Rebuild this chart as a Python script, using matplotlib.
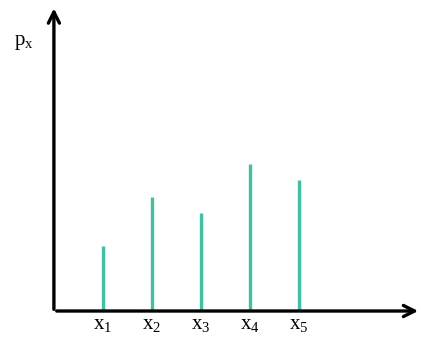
import matplotlib.pyplot as plt
import numpy as np

plt.rcParams['mathtext.fontset'] = 'custom'
plt.rcParams['mathtext.rm'] = 'Liberation Serif'
plt.rcParams['mathtext.it'] = 'Liberation Serif'
plt.rcParams['font.family'] = 'Liberation Serif'

labels = ['1', '2', '3', '4', '5']
px = [0.117, 0.206, 0.177, 0.265, 0.235]

xs = np.arange(1, len(px) + 1)

fig = plt.figure(figsize=(4.21, 3.38), dpi=100)
ax = fig.add_axes([0, 0, 1, 1])
ax.set_xlim(-1.10, 7.49)
ax.set_ylim(-0.0486, 0.560)
ax.axis('off')

ax.vlines(xs, 0, px, color='#3cc4a2', lw=2.4)

# axes with arrow heads
ax.annotate('', xy=(7.49, 0), xytext=(0, 0),
            arrowprops=dict(arrowstyle='->, head_width=0.4, head_length=0.8', lw=2.4, color='black'))
ax.annotate('', xy=(0, 0.55), xytext=(0, -0.002),
            arrowprops=dict(arrowstyle='->, head_width=0.4, head_length=0.8', lw=2.4, color='black'))

for x, lab in zip(xs, labels):
    ax.text(x, -0.008, r'$\mathrm{x}_{' + lab + '}$', ha='center', va='top', fontsize=15)

ax.text(-0.82, 0.483, r'$\mathrm{p}_{\mathrm{x}}$', ha='left', va='center', fontsize=15)

plt.savefig('out.png', dpi=100)
